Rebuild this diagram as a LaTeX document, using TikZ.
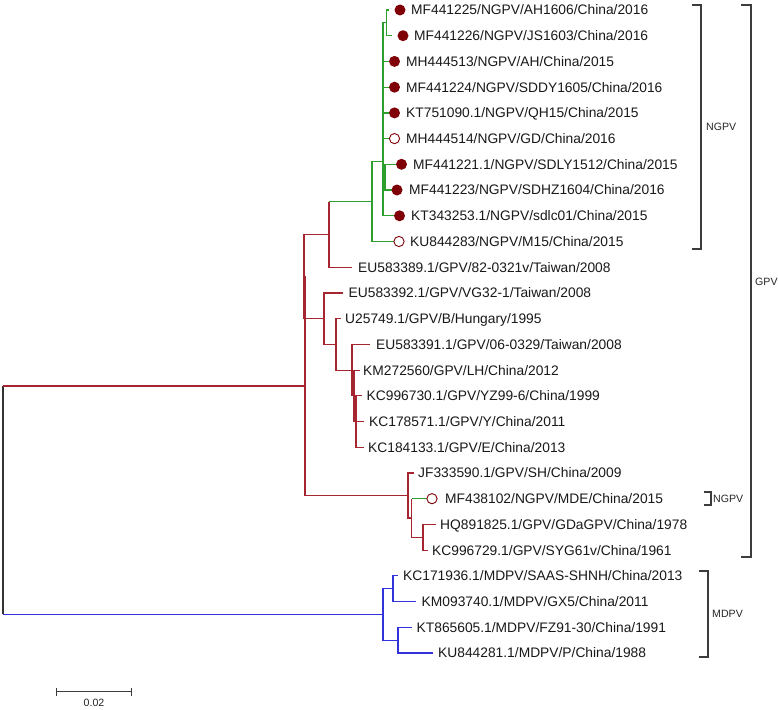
\documentclass[tikz,border=0pt]{standalone}
\usepackage{fontspec}
\setmainfont{Liberation Sans}
\definecolor{redl}{RGB}{165,38,48}
\definecolor{greenl}{RGB}{46,158,46}
\definecolor{bluel}{RGB}{50,50,220}
\definecolor{dotc}{RGB}{128,0,8}
\definecolor{brk}{RGB}{60,60,60}
\begin{document}
\begin{tikzpicture}[x=1pt,y=-1pt,
  rl/.style={draw=redl,line width=1.2pt},
  gl/.style={draw=greenl,line width=1.2pt},
  bl/.style={draw=bluel,line width=1.2pt},
  kl/.style={draw=black!80,line width=1.2pt},
  lab/.style={anchor=base west,inner sep=0pt,yshift=-4.95pt,font=\fontsize{13.8}{16}\selectfont,text=black!90},
  fdot/.style={circle,fill=dotc,minimum size=11pt,inner sep=0pt},
  odot/.style={circle,draw=dotc,line width=0.9pt,minimum size=10.2pt,inner sep=0pt},
  brline/.style={draw=brk,line width=1.1pt},
  brlab/.style={anchor=west,inner sep=0pt,font=\fontsize{10.6}{12}\selectfont,text=black!85}]
\fill[white] (0,0) rectangle (778,709);
\useasboundingbox (0,0) rectangle (778,709);
% internal nodes
\coordinate (rootT) at (3,386);
\coordinate (rootB) at (3,614.4);
\coordinate (A) at (305,386);
\coordinate (B) at (304,276.5);
\coordinate (D) at (329,234.5);
\coordinate (Gn) at (372,201.7);
\coordinate (P) at (383,161.6);
\coordinate (Q) at (386.5,22.9);
\coordinate (R) at (385,177.2);
\coordinate (E) at (324,318.6);
\coordinate (F) at (336,344.4);
\coordinate (G) at (352,370.2);
\coordinate (H) at (354,395.8);
\coordinate (H2) at (356,421.5);
\coordinate (C) at (408,495.5);
\coordinate (J) at (411.5,518);
\coordinate (K) at (423,537.3);
\coordinate (N) at (383,614.4);
\coordinate (L) at (393,588.7);
\coordinate (M) at (398,640.2);
% tips
\coordinate (t0) at (389,10);
\coordinate (t1) at (392,35.7);
\coordinate (t2) at (389.5,61.4);
\coordinate (t3) at (389.5,87.2);
\coordinate (t4) at (389.5,112.9);
\coordinate (t5) at (389.5,138.6);
\coordinate (t6) at (396,164.3);
\coordinate (t7) at (392,190);
\coordinate (t8) at (394,215.8);
\coordinate (t9) at (394,241.5);
\coordinate (t10) at (352,267.2);
\coordinate (t11) at (343,292.9);
\coordinate (t12) at (341,318.6);
\coordinate (t13) at (370,344.4);
\coordinate (t14) at (359.5,370.1);
\coordinate (t15) at (362,395.8);
\coordinate (t16) at (364,421.5);
\coordinate (t17) at (363.5,447.2);
\coordinate (t18) at (414,473);
\coordinate (t19) at (427,498.7);
\coordinate (t20) at (436,524.4);
\coordinate (t21) at (428,550.1);
\coordinate (t22) at (398,575.8);
\coordinate (t23) at (416,601.6);
\coordinate (t24) at (412,627.3);
\coordinate (t25) at (433,653);
% root
\draw[kl] (rootT) -- (rootB);
\draw[rl] (rootT) -- (A);
\draw[bl] (rootB) -- (N);
% GPV clade
\draw[rl] (A) |- (B);
\draw[rl] (A) |- (C);
\draw[rl] (B) |- (D);
\draw[rl] (B) |- (E);
\draw[rl] (D) -- (D |- Gn);
\draw[gl] (D |- Gn) -- (Gn);
\draw[rl] (D) |- (t10);
\draw[gl] (Gn) |- (P);
\draw[gl] (Gn) |- (t9);
\draw[gl] (P) |- (Q);
\draw[gl] (P) |- (t2);
\draw[gl] (P) |- (t3);
\draw[gl] (P) |- (t4);
\draw[gl] (P) |- (t5);
\draw[gl] (P) |- (R);
\draw[gl] (P) |- (t8);
\draw[gl] (Q) |- (t0);
\draw[gl] (Q) |- (t1);
\draw[gl] (R) |- (t6);
\draw[gl] (R) |- (t7);
\draw[rl] (E) |- (t11);
\draw[rl] (E) |- (F);
\draw[rl] (F) |- (t12);
\draw[rl] (F) |- (G);
\draw[rl] (G) |- (t13);
\draw[rl] (G) |- (H);
\draw[rl] (H) |- (t14);
\draw[rl] (H) |- (H2);
\draw[rl] (H2) |- (t15);
\draw[rl] (H2) |- (t16);
\draw[rl] (H2) |- (t17);
\draw[rl] (C) |- (t18);
\draw[rl] (C) |- (J);
\draw[rl] (J) -- (J |- t19);
\draw[gl] (J |- t19) -- (t19);
\draw[rl] (J) |- (K);
\draw[rl] (K) |- (t20);
\draw[rl] (K) |- (t21);
% MDPV clade
\draw[bl] (N) |- (L);
\draw[bl] (N) |- (M);
\draw[bl] (L) |- (t22);
\draw[bl] (L) |- (t23);
\draw[bl] (M) |- (t24);
\draw[bl] (M) |- (t25);
% markers
\node[fdot] (c0) at (400,10) {};
\node[fdot] (c1) at (403,35.7) {};
\node[fdot] (c2) at (394.5,61.4) {};
\node[fdot] (c3) at (394.5,87.2) {};
\node[fdot] (c4) at (394.5,112.9) {};
\node[odot] (c5) at (394.5,138.6) {};
\node[fdot] (c6) at (401.5,164.3) {};
\node[fdot] (c7) at (397,190) {};
\node[fdot] (c8) at (399.5,215.8) {};
\node[odot] (c9) at (399,241.5) {};
\node[odot] (c19) at (432,498.7) {};
% labels
\node[lab] (l0) at (411,10) {MF441225/NGPV/AH1606/China/2016};
\node[lab] (l1) at (414,35.7) {MF441226/NGPV/JS1603/China/2016};
\node[lab] (l2) at (406,61.4) {MH444513/NGPV/AH/China/2015};
\node[lab] (l3) at (406,87.2) {MF441224/NGPV/SDDY1605/China/2016};
\node[lab] (l4) at (406,112.9) {KT751090.1/NGPV/QH15/China/2015};
\node[lab] (l5) at (406,138.6) {MH444514/NGPV/GD/China/2016};
\node[lab] (l6) at (413,164.3) {MF441221.1/NGPV/SDLY1512/China/2015};
\node[lab] (l7) at (409,190) {MF441223/NGPV/SDHZ1604/China/2016};
\node[lab] (l8) at (411,215.8) {KT343253.1/NGPV/sdlc01/China/2015};
\node[lab] (l9) at (410,241.5) {KU844283/NGPV/M15/China/2015};
\node[lab] (l10) at (358,267.2) {EU583389.1/GPV/82-0321v/Taiwan/2008};
\node[lab] (l11) at (348.5,292.9) {EU583392.1/GPV/VG32-1/Taiwan/2008};
\node[lab] (l12) at (345,318.6) {U25749.1/GPV/B/Hungary/1995};
\node[lab] (l13) at (376,344.4) {EU583391.1/GPV/06-0329/Taiwan/2008};
\node[lab] (l14) at (363,370.1) {KM272560/GPV/LH/China/2012};
\node[lab] (l15) at (366.5,395.8) {KC996730.1/GPV/YZ99-6/China/1999};
\node[lab] (l16) at (369,421.5) {KC178571.1/GPV/Y/China/2011};
\node[lab] (l17) at (368,447.2) {KC184133.1/GPV/E/China/2013};
\node[lab] (l18) at (418,473) {JF333590.1/GPV/SH/China/2009};
\node[lab] (l19) at (445,498.7) {MF438102/NGPV/MDE/China/2015};
\node[lab] (l20) at (440,524.4) {HQ891825.1/GPV/GDaGPV/China/1978};
\node[lab] (l21) at (432,550.1) {KC996729.1/GPV/SYG61v/China/1961};
\node[lab] (l22) at (403,575.8) {KC171936.1/MDPV/SAAS-SHNH/China/2013};
\node[lab] (l23) at (421.5,601.6) {KM093740.1/MDPV/GX5/China/2011};
\node[lab] (l24) at (416.5,627.3) {KT865605.1/MDPV/FZ91-30/China/1991};
\node[lab] (l25) at (438,653) {KU844281.1/MDPV/P/China/1988};
% brackets
\coordinate (bn1) at (692,5);
\coordinate (bn2) at (701,249);
\draw[brline] (bn1) -| (bn2) -- (bn1 |- bn2);
\node[brlab] (ngpv1) at (706,127) {NGPV};
\coordinate (bg1) at (741,5);
\coordinate (bg2) at (751,557);
\draw[brline] (bg1) -| (bg2) -- (bg1 |- bg2);
\node[brlab] (gpv) at (755,282) {GPV};
\coordinate (bs1) at (704,492);
\coordinate (bs2) at (711,505);
\draw[brline] (bs1) -| (bs2) -- (bs1 |- bs2);
\node[brlab] (ngpv2) at (713,498.5) {NGPV};
\coordinate (bm1) at (699,571);
\coordinate (bm2) at (708,657);
\draw[brline] (bm1) -| (bm2) -- (bm1 |- bm2);
\node[brlab] (mdpv) at (712,614) {MDPV};
% scale bar
\coordinate (s1) at (56.7,691.7);
\coordinate (s2) at (131.7,691.7);
\draw[brline] (s1) -- (s2);
\draw[brline] ([yshift=4pt]s1) -- ([yshift=-4.3pt]s1);
\draw[brline] ([yshift=4pt]s2) -- ([yshift=-4.3pt]s2);
\node[font=\fontsize{10.6}{12}\selectfont,text=black!85,inner sep=0pt] (sl) at (94,703) {0.02};
\end{tikzpicture}
\end{document}
